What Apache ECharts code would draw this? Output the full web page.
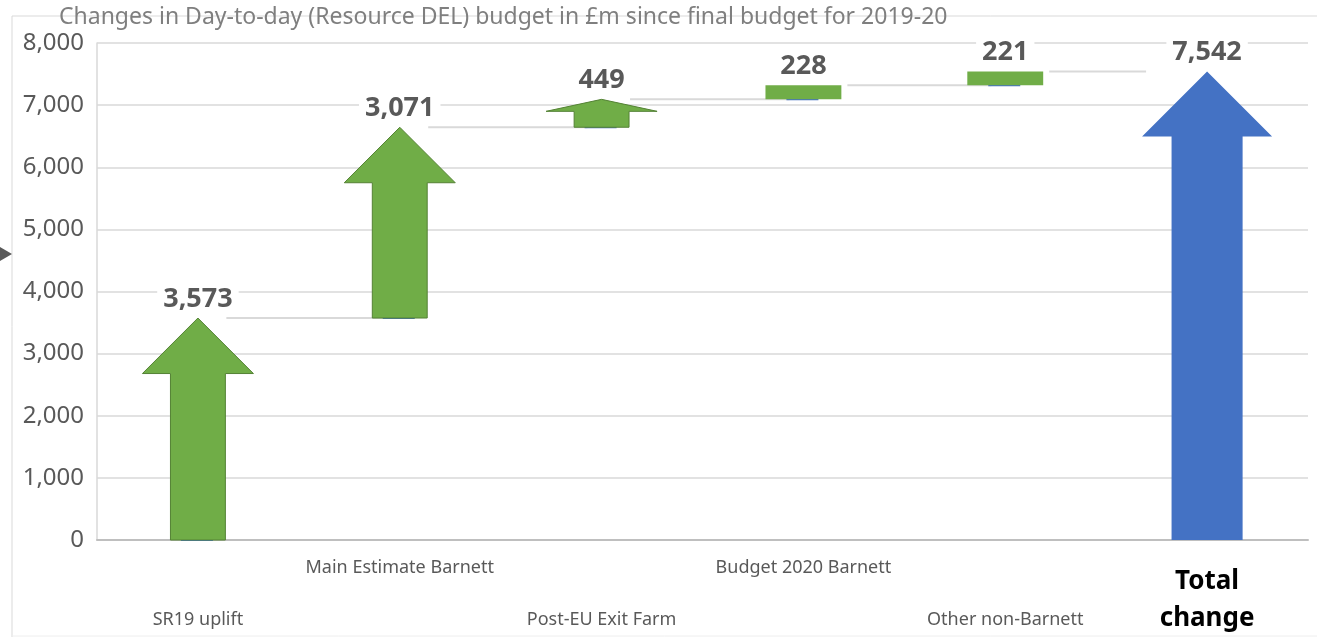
<!DOCTYPE html>
<html>
<head>
<meta charset="utf-8">
<script src="https://cdn.jsdelivr.net/npm/echarts@6/dist/echarts.min.js"></script>
<style>
  html, body { margin: 0; padding: 0; background: #fff; }
  #main { width: 1317px; height: 637px; }
</style>
</head>
<body>
<div id="main"></div>
<script>
var categories = [
  "SR19 uplift",
  "Main Estimate Barnett",
  "Post-EU Exit Farm",
  "Budget 2020 Barnett",
  "Other non-Barnett",
  "Total change"
];
var changes = [3573, 3071, 449, 228, 221, 7542];
var isTotal = [false, false, false, false, false, true];
var shapes = ["arrow", "arrow", "arrow", "bar", "bar", "arrow"];
var yTicks = { min: 0, max: 8000, interval: 1000 };

var myChart = echarts.init(document.getElementById("main"));

// base / top of each step
var steps = [];
var running = 0;
for (var i = 0; i < changes.length; i++) {
  var stepBase = isTotal[i] ? 0 : running;
  var stepTop = stepBase + changes[i];
  if (!isTotal[i]) running = stepTop;
  steps.push([i, stepBase, stepTop, changes[i]]);
}

// connector lines between the steps (at the previous top)
var links = [];
for (var j = 1; j < steps.length; j++) {
  links.push([j, steps[j - 1][2]]);
}

function halfWidths(i, band) {
  if (shapes[i] === "bar") return { shaft: band * 0.188, head: 0 };
  if (isTotal[i]) return { shaft: band * 0.176, head: band * 0.322 };
  return { shaft: band * 0.136, head: band * 0.275 };
}

function renderStep(params, api) {
  var i = api.value(0);
  var band = api.size([1, 0])[0];
  var p0 = api.coord([i, api.value(1)]);
  var p1 = api.coord([i, api.value(2)]);
  var x = p0[0], yb = p0[1], yt = p1[1];
  var w = halfWidths(i, band);
  var color = isTotal[i] ? "#4472c4" : "#70ad47";
  var children = [];
  if (!isTotal[i]) {
    children.push({
      type: "line",
      shape: { x1: x - 17, y1: yb, x2: x + 15, y2: yb },
      style: { stroke: "#4472c4", lineWidth: 2 }
    });
  }
  if (shapes[i] === "bar") {
    children.push({
      type: "rect",
      shape: { x: x - w.shaft, y: yt, width: w.shaft * 2, height: yb - yt },
      style: { fill: color }
    });
  } else {
    var len = yb - yt;
    var headH = Math.min(w.head, len * 0.43);
    var yh = yt + headH;
    children.push({
      type: "polygon",
      shape: {
        points: [
          [x - w.shaft, yb], [x - w.shaft, yh], [x - w.head, yh], [x, yt],
          [x + w.head, yh], [x + w.shaft, yh], [x + w.shaft, yb]
        ]
      },
      style: {
        fill: color,
        stroke: isTotal[i] ? color : "#548235",
        lineWidth: isTotal[i] ? 0 : 1
      }
    });
  }
  children.push({
    type: "text",
    x: x,
    y: yt - 19,
    style: {
      text: echarts.format.addCommas(api.value(3)),
      fontFamily: "Noto Sans",
      fontSize: 27,
      fontWeight: "bold",
      fill: "#595959",
      align: "center",
      verticalAlign: "middle",
      backgroundColor: "#fff",
      padding: [0, 6]
    }
  });
  return { type: "group", children: children };
}

function renderLink(params, api) {
  var i = api.value(0);
  var band = api.size([1, 0])[0];
  var pPrev = api.coord([i - 1, api.value(1)]);
  var pCur = api.coord([i, api.value(1)]);
  var wPrev = halfWidths(i - 1, band);
  var wCur = halfWidths(i, band);
  var x1 = pPrev[0] + (shapes[i - 1] === "bar" ? wPrev.shaft + 6 : wPrev.shaft + 1);
  var x2 = isTotal[i] ? pCur[0] - wCur.head + 4 : pCur[0] - 14;
  return {
    type: "line",
    shape: { x1: x1, y1: pCur[1], x2: x2, y2: pCur[1] },
    style: { stroke: "#d9d9d9", lineWidth: 2 }
  };
}

var option = {
  animation: false,
  title: {
    text: "Changes in Day-to-day (Resource DEL) budget in £m since final budget for 2019-20",
    left: 54,
    top: 1,
    textStyle: {
      color: "#7f7f7f",
      fontFamily: "Noto Sans",
      fontSize: 23,
      fontWeight: "normal"
    }
  },
  graphic: [
    {
      type: "polyline",
      z: -1,
      shape: { points: [[12, 637], [12, 16], [1317, 16]] },
      style: { stroke: "#d9d9d9", lineWidth: 1, fill: null }
    },
    {
      type: "line",
      z: -1,
      shape: { x1: 12, y1: 636, x2: 1317, y2: 636 },
      style: { stroke: "#eeeeee", lineWidth: 1 }
    },
    {
      type: "polygon",
      shape: { points: [[0, 247], [12, 254], [0, 261]] },
      style: { fill: "#595959" }
    }
  ],
  grid: {
    left: 97,
    right: 9,
    top: 43,
    bottom: 97
  },
  xAxis: {
    type: "category",
    data: categories,
    axisTick: { show: false },
    axisLine: { lineStyle: { color: "#bfbfbf", width: 2 } },
    axisLabel: {
      interval: 0,
      margin: 19,
      color: "#595959",
      fontFamily: "Noto Sans",
      fontSize: 18,
      formatter: function (v, idx) {
        if (idx === 5) return "{tot1|Total}\n{tot|change}";
        if (idx % 2 === 0) return "{lo|" + v + "}";
        return v;
      },
      rich: {
        lo: { padding: [52, 0, 0, 0], color: "#595959", fontFamily: "Noto Sans", fontSize: 18 },
        tot1: { padding: [9, 0, 0, 0], lineHeight: 37, color: "#000", fontFamily: "Noto Sans", fontSize: 26, fontWeight: "bold" },
        tot: { padding: [8, 0, 0, 0], lineHeight: 37, color: "#000", fontFamily: "Noto Sans", fontSize: 26, fontWeight: "bold" }
      }
    }
  },
  yAxis: {
    type: "value",
    min: yTicks.min,
    max: yTicks.max,
    interval: yTicks.interval,
    axisLine: { show: true, lineStyle: { color: "#d9d9d9", width: 1.5 } },
    axisTick: { show: false },
    splitLine: { lineStyle: { color: "#d9d9d9", width: 1.5 } },
    axisLabel: {
      margin: 13,
      color: "#595959",
      fontFamily: "Noto Sans",
      fontSize: 24,
      formatter: function (v) { return echarts.format.addCommas(v); }
    }
  },
  series: [
    {
      type: "custom",
      z: 1,
      renderItem: renderLink,
      data: links
    },
    {
      type: "custom",
      z: 2,
      renderItem: renderStep,
      data: steps
    }
  ]
};

myChart.setOption(option);
</script>
</body>
</html>
